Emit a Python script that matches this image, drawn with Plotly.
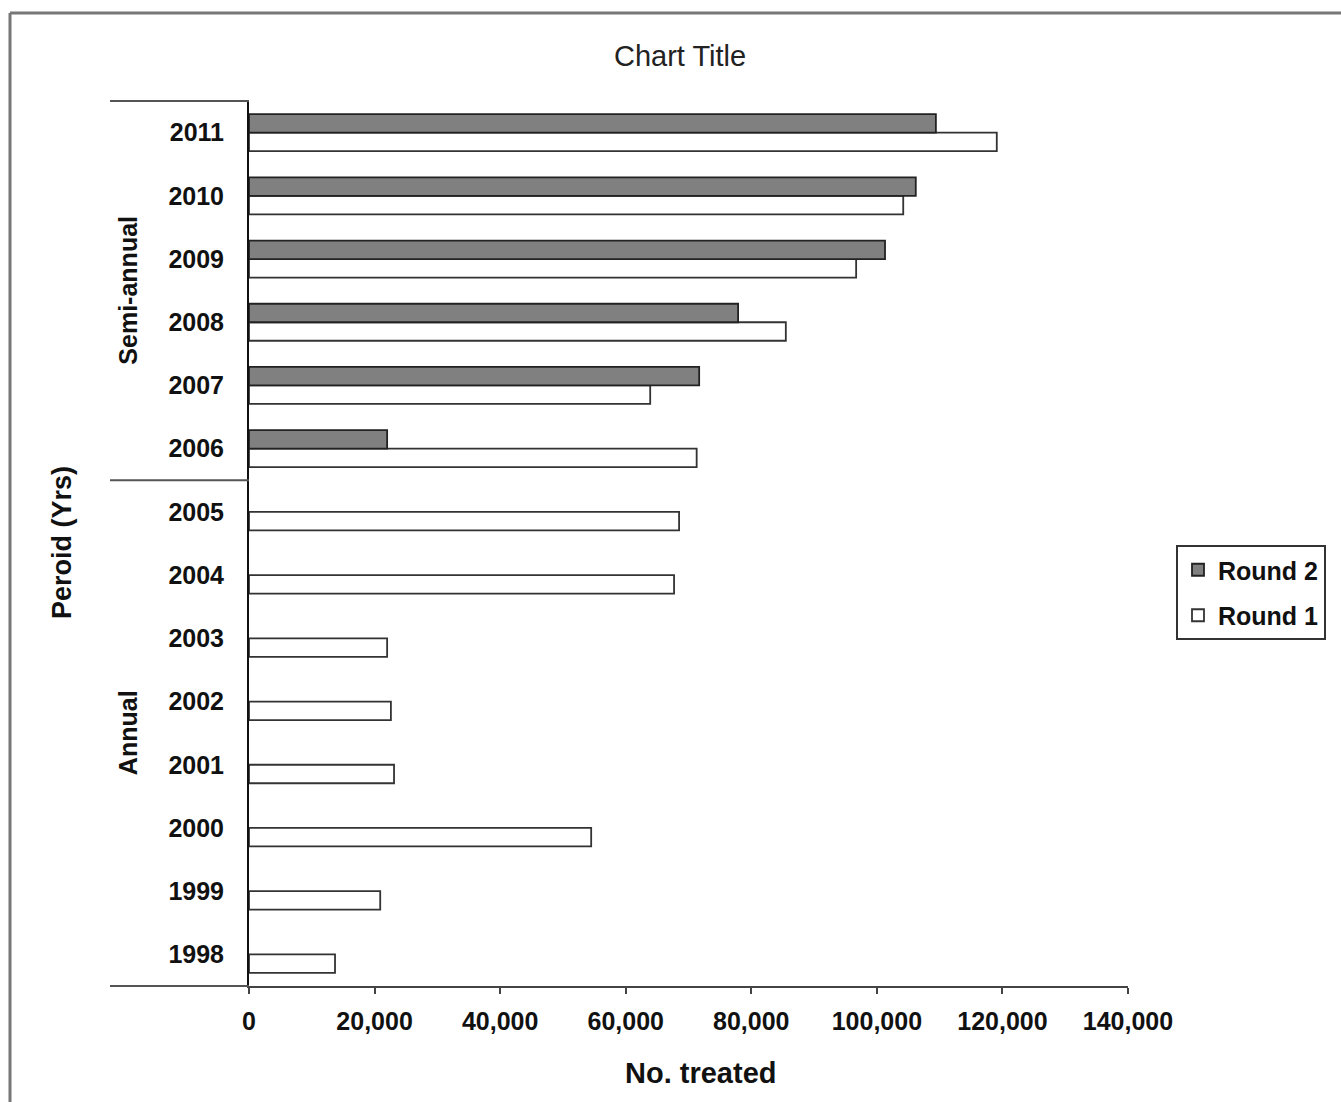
import plotly.graph_objects as go

years = ["1998", "1999", "2000", "2001", "2002", "2003", "2004",
         "2005", "2006", "2007", "2008", "2009", "2010", "2011"]
round1 = [13700, 20900, 54500, 23100, 22600, 22000, 67700,
          68500, 71300, 63900, 85500, 96700, 104200, 119100]
round2_years = ["2006", "2007", "2008", "2009", "2010", "2011"]
round2 = [22000, 71700, 77900, 101300, 106200, 109400]
x_ticks = [0, 20000, 40000, 60000, 80000, 100000, 120000, 140000]

FONT = "Liberation Sans, Arial, sans-serif"

fig = go.Figure()
fig.add_trace(go.Bar(
    y=years, x=round1, orientation="h", name="Round 1",
    marker=dict(color="white", line=dict(color="#333333", width=1.8)),
    legendgroup="r1", legendrank=2,
))
fig.add_trace(go.Bar(
    y=round2_years, x=round2, orientation="h", name="Round 2",
    marker=dict(color="#808080", line=dict(color="#222222", width=1.8)),
    legendgroup="r2", legendrank=1,
))

L, R, T, B = 249, 213, 101, 116
W, H = 1341, 1102
pw, ph = W - L - R, H - T - B


def px(x):
    return (x - L) / pw


def py(y):
    return (H - B - y) / ph


shapes = [
    # outer border (top & left)
    dict(type="line", xref="paper", yref="paper", x0=px(10), x1=px(1341), y0=py(13), y1=py(13),
         line=dict(color="#777777", width=3)),
    dict(type="line", xref="paper", yref="paper", x0=px(10), x1=px(10), y0=py(13), y1=py(1102),
         line=dict(color="#777777", width=3)),
    # group separators
    dict(type="line", xref="paper", yref="paper", x0=px(110), x1=0, y0=1, y1=1,
         line=dict(color="#555555", width=2)),
    dict(type="line", xref="paper", yref="y", x0=px(110), x1=0, y0=7.5, y1=7.5,
         line=dict(color="#555555", width=2)),
    dict(type="line", xref="paper", yref="paper", x0=px(110), x1=0, y0=0, y1=0,
         line=dict(color="#555555", width=2)),
]

annotations = [
    dict(text="Chart Title", xref="paper", yref="paper", x=px(680), y=py(56),
         showarrow=False, font=dict(family=FONT, size=29, color="#222222"),
         xanchor="center", yanchor="middle"),
    dict(text="No. treated", xref="paper", yref="paper", x=px(700), y=py(1073),
         showarrow=False, font=dict(family=FONT, size=29, color="#111111", weight="bold"),
         xanchor="center", yanchor="middle"),
    dict(text="Peroid (Yrs)", xref="paper", yref="paper", x=px(62), y=py(543),
         showarrow=False, textangle=-90,
         font=dict(family=FONT, size=27, color="#111111", weight="bold"),
         xanchor="center", yanchor="middle"),
    dict(text="Semi-annual", xref="paper", yref="y", x=px(128), y=10.5,
         showarrow=False, textangle=-90,
         font=dict(family=FONT, size=25, color="#111111", weight="bold"),
         xanchor="center", yanchor="middle"),
    dict(text="Annual", xref="paper", yref="y", x=px(128), y=3.5,
         showarrow=False, textangle=-90,
         font=dict(family=FONT, size=25, color="#111111", weight="bold"),
         xanchor="center", yanchor="middle"),
]

fig.update_layout(
    width=W, height=H,
    margin=dict(l=L, r=R, t=T, b=B),
    paper_bgcolor="white", plot_bgcolor="white",
    barmode="group", bargap=0.415, bargroupgap=0,
    showlegend=True,
    legend=dict(
        x=px(1176), y=py(545), xanchor="left", yanchor="top",
        traceorder="grouped", tracegroupgap=10,
        bordercolor="#333333", borderwidth=2, bgcolor="white",
        font=dict(family=FONT, size=25, color="#111111", weight="bold"),
        itemwidth=30,
    ),
    xaxis=dict(
        range=[0, 140000], tickvals=x_ticks, tickformat=",",
        showgrid=False, zeroline=False,
        showline=True, linecolor="#444444", linewidth=2,
        ticks="outside", ticklen=6, tickwidth=2, tickcolor="#444444",
        ticklabelstandoff=6,
        tickfont=dict(family=FONT, size=25, color="#111111", weight="bold"),
    ),
    yaxis=dict(
        type="category", categoryorder="array", categoryarray=years,
        range=[-0.5, 13.5],
        showgrid=False, zeroline=False,
        showline=True, linecolor="#111111", linewidth=2,
        ticks="", ticklabelstandoff=18,
        tickfont=dict(family=FONT, size=25, color="#111111", weight="bold"),
    ),
    shapes=shapes,
    annotations=annotations,
)

fig.write_html("out.html")
